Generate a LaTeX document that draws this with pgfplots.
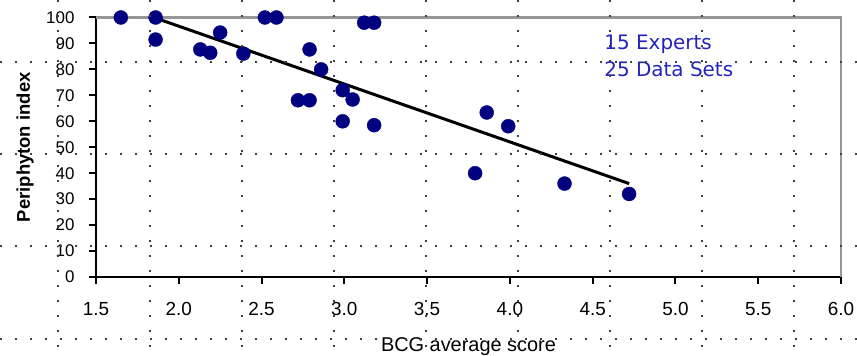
\documentclass[border=0pt]{standalone}
\usepackage{pgfplots}
\pgfplotsset{compat=1.18}
\usepackage{fontspec}
\setmainfont{Liberation Sans}
\newfontfamily\annfont{DejaVu Sans}
\definecolor{navy}{RGB}{0,0,128}
\definecolor{annblue}{RGB}{35,35,185}
\definecolor{bordergray}{RGB}{150,150,150}
\begin{document}
\begin{tikzpicture}
\path[use as bounding box] (-96bp,-79bp) rectangle (761bp,277bp);
\begin{axis}[
  scale only axis,
  width=745bp, height=259.5bp,
  xmin=1.5, xmax=6, ymin=0, ymax=100,
  axis lines=left,
  axis line style={-, black, line width=2.2bp},
  xtick={1.5,2,...,6}, ytick={0,10,...,100},
  /pgf/number format/assume math mode=true,
  xticklabel style={/pgf/number format/fixed, /pgf/number format/fixed zerofill, /pgf/number format/precision=1, font=\fontsize{19}{22}\selectfont, yshift=-15bp},
  yticklabel style={font=\fontsize{17}{20}\selectfont, xshift=-11bp},
  tick align=outside,
  major tick length=7bp,
  tick style={black, line width=2bp},
  clip=false,
  xlabel={BCG average score},
  xlabel style={font=\fontsize{20}{24}\selectfont, at={(rel axis cs:0.5,0)}, anchor=center, yshift=-70bp},
  ylabel={\textbf{Periphyton index}},
  ylabel style={font=\fontsize{18.5}{22}\selectfont, at={(rel axis cs:0,0.5)}, anchor=center, rotate=0, yshift=71bp},
]
\addplot[bordergray, line width=2.2bp] coordinates {(1.5,100) (6,100) (6,0)};
\addplot[only marks, mark=*, mark size=7bp, mark options={fill=navy, draw=navy}] coordinates {
(1.65,100) (1.86,100) (1.86,91.5) (2.13,87.7) (2.19,86.4) (2.25,94.2) (2.39,86.1)
(2.52,100) (2.59,100) (2.79,87.7) (2.86,80) (2.72,68.1) (2.79,68.1)
(2.99,72) (3.05,68.4) (2.99,60) (3.18,58.5) (3.12,98) (3.18,98)
(3.86,63.4) (3.99,58.1) (3.79,40) (4.33,36) (4.72,32)
};
\addplot[black, line width=3bp] coordinates {(1.85,100) (4.72,36)};
\node[text=annblue, anchor=north west, align=left, font=\annfont\fontsize{20}{28}\selectfont, inner sep=0pt] at (axis cs:4.57,93.5) {15 Experts\\25 Data Sets};
\end{axis}
\foreach \x in {-38,54,146,238,330,422,514,606,698}
  \draw[black!75, line width=1.6bp, dash pattern=on 1.6bp off 13.4bp] (\x bp,277bp) -- (\x bp,-79bp);
\foreach \y in {215,123,31,-62}
  \draw[black!75, line width=1.6bp, dash pattern=on 1.6bp off 13.4bp] (-96bp,\y bp) -- (761bp,\y bp);
\end{tikzpicture}
\end{document}
